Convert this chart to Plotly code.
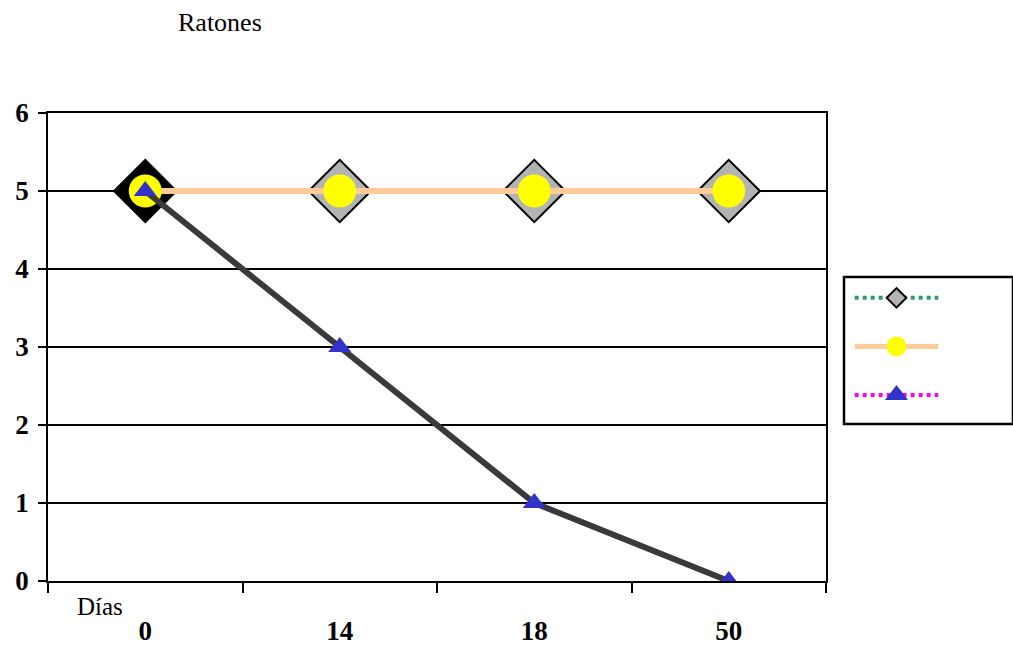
import plotly.graph_objects as go

W, H = 1013, 648

dias = ["0", "14", "18", "50"]
serie_diamante = [5, 5, 5, 5]
serie_circulo = [5, 5, 5, 5]
serie_triangulo = [5, 3, 1, 0]
y_ticks = [0, 1, 2, 3, 4, 5, 6]

# plot area in pixels
PL, PR, PT, PB = 48, 826, 113, 581

def px_x(v):
    return v / W

def px_y(v):
    return 1 - v / H

fig = go.Figure()

# Series 1: diamonds, green dashed line
fig.add_trace(go.Scatter(
    x=dias, y=serie_diamante, mode="lines+markers",
    line=dict(color="#339966", width=2, dash="dash"),
    marker=dict(symbol="diamond", size=48,
                color=["#000000", "#b3b3b3", "#b3b3b3", "#b3b3b3"],
                line=dict(color="black", width=2)),
    showlegend=False, xaxis="x", yaxis="y"))

# Series 2: yellow circles, orange line
fig.add_trace(go.Scatter(
    x=dias, y=serie_circulo, mode="lines+markers",
    line=dict(color="#ffcc99", width=6),
    marker=dict(symbol="circle", size=33, color="#ffff00", line=dict(width=0)),
    showlegend=False, xaxis="x", yaxis="y"))

# Series 3: blue triangles, thick dark line
fig.add_trace(go.Scatter(
    x=dias, y=serie_triangulo, mode="lines+markers",
    line=dict(color="#3a3a3a", width=6),
    marker=dict(symbol="triangle-up", size=20, color="#3333cc", line=dict(width=0)),
    showlegend=False, xaxis="x", yaxis="y"))

# Custom legend (no labels) drawn on a small auxiliary axis
leg_rows = [3, 2, 1]
leg_x = [0, 0.5, 1]
leg_styles = [
    dict(line=dict(color="#339966", width=4, dash="dot"),
         marker=dict(symbol="diamond", size=15, color="#b3b3b3",
                     line=dict(color="black", width=2))),
    dict(line=dict(color="#ffcc99", width=5),
         marker=dict(symbol="circle", size=20, color="#ffff00", line=dict(width=0))),
    dict(line=dict(color="#ff00ff", width=4, dash="dot"),
         marker=dict(symbol="triangle-up", size=20, color="#3333cc", line=dict(width=0))),
]
for row, st in zip(leg_rows, leg_styles):
    fig.add_trace(go.Scatter(x=leg_x, y=[row] * 3, mode="lines", line=st["line"],
                             showlegend=False, hoverinfo="skip", xaxis="x2", yaxis="y2"))
    fig.add_trace(go.Scatter(x=[leg_x[1]], y=[row], mode="markers", marker=st["marker"],
                             showlegend=False, hoverinfo="skip", xaxis="x2", yaxis="y2"))

serif = "Liberation Serif"

fig.update_layout(
    width=W, height=H,
    margin=dict(l=0, r=0, t=0, b=0),
    paper_bgcolor="white", plot_bgcolor="white",
    font=dict(family=serif, color="black"),
    title=dict(text="Ratones", x=px_x(178), xanchor="left",
               y=px_y(22), yanchor="middle", xref="paper", yref="paper",
               font=dict(family=serif, size=26, color="black")),
    xaxis=dict(
        domain=[px_x(PL), px_x(PR)], type="category",
        categoryorder="array", categoryarray=dias,
        range=[-0.5, 3.5], tickson="boundaries",
        ticks="outside", ticklen=10, tickwidth=1.5, tickcolor="black",
        showline=True, linecolor="black", linewidth=1.5, mirror=True,
        showgrid=False, zeroline=False, automargin=False,
        ticklabelstandoff=25,
        tickfont=dict(family=serif, size=27, color="black", weight="bold"),
        anchor="y", fixedrange=True),
    yaxis=dict(
        domain=[px_y(PB), px_y(PT)], range=[0, 6],
        tickvals=y_ticks, ticks="outside", ticklen=8, tickwidth=1.5, tickcolor="black",
        showline=True, linecolor="black", linewidth=1.5, mirror=True,
        showgrid=True, gridcolor="black", gridwidth=1.5, zeroline=False,
        automargin=False, ticklabelstandoff=4,
        tickfont=dict(family=serif, size=27, color="black", weight="bold"),
        anchor="x", fixedrange=True),
    xaxis2=dict(domain=[px_x(853), px_x(940)], range=[-0.02, 1.02], visible=False,
                anchor="y2", fixedrange=True),
    yaxis2=dict(domain=[px_y(424), px_y(277)], range=[0.4, 3.43], visible=False,
                anchor="x2", fixedrange=True),
    shapes=[dict(type="rect", xref="paper", yref="paper",
                 x0=px_x(844), x1=px_x(1013), y0=px_y(424), y1=px_y(277),
                 line=dict(color="black", width=2.5), fillcolor="rgba(0,0,0,0)")],
    annotations=[dict(text="Días", xref="paper", yref="paper",
                      x=px_x(100), y=px_y(606), xanchor="center", yanchor="middle",
                      showarrow=False, font=dict(family=serif, size=25, color="black"))],
)

fig.write_html("out.html")
